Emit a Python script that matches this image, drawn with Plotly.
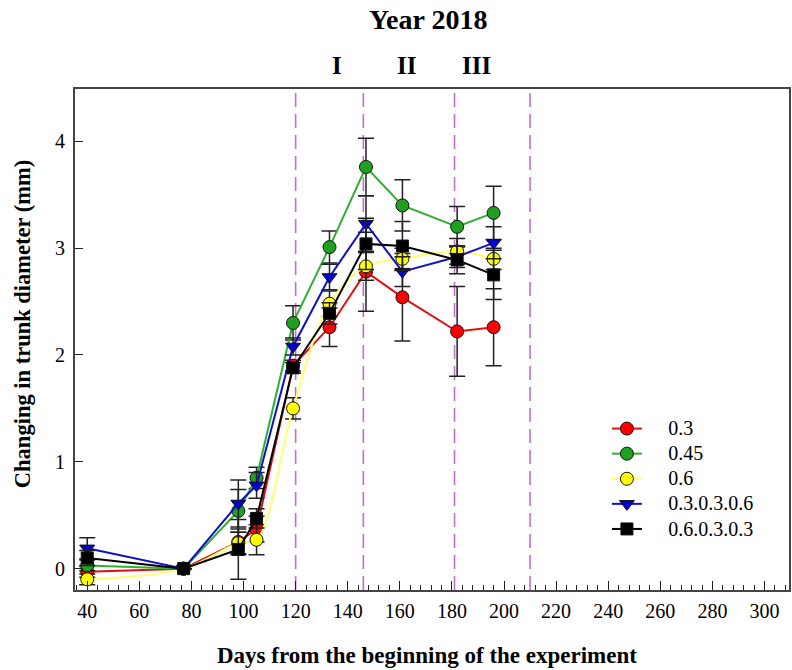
import plotly.graph_objects as go

# Sampling days (days from the beginning of the experiment)
days = [40, 77, 98, 105, 119, 133, 147, 161, 182, 196]

# Mean change in trunk diameter (mm) per irrigation treatment
series_names = ["0.3", "0.45", "0.6", "0.3.0.3.0.6", "0.6.0.3.0.3"]
y_03 = [-0.03, 0.0, 0.25, 0.37, 1.90, 2.26, 2.78, 2.54, 2.22, 2.26]
y_045 = [0.03, 0.0, 0.54, 0.85, 2.30, 3.01, 3.76, 3.40, 3.20, 3.33]
y_06 = [-0.10, 0.0, 0.24, 0.27, 1.50, 2.48, 2.83, 2.90, 2.97, 2.90]
y_030306 = [0.19, 0.0, 0.61, 0.78, 2.08, 2.73, 3.23, 2.78, 2.92, 3.05]
y_060303 = [0.10, 0.0, 0.18, 0.47, 1.88, 2.39, 3.04, 3.02, 2.89, 2.75]

# Standard errors
e_03 = [0.05, 0.0, 0.12, 0.12, 0.05, 0.18, 0.37, 0.41, 0.42, 0.36]
e_045 = [0.05, 0.0, 0.20, 0.10, 0.16, 0.15, 0.27, 0.24, 0.19, 0.25]
e_06 = [0.05, 0.0, 0.10, 0.14, 0.10, 0.12, 0.13, 0.10, 0.12, 0.10]
e_030306 = [0.10, 0.0, 0.22, 0.12, 0.08, 0.12, 0.26, 0.14, 0.10, 0.15]
e_060303 = [0.07, 0.0, 0.28, 0.09, 0.05, 0.10, 0.24, 0.23, 0.13, 0.23]

# Boundaries of the irrigation periods and their labels
period_bounds = [120, 146, 181, 210]
period_labels = ["I", "II", "III"]
period_label_pos = [136, 162.5, 189.5]

x_ticks = list(range(40, 301, 20))
y_ticks = [0, 1, 2, 3, 4]

FONT = "Liberation Serif, Times New Roman, serif"

# plot-area geometry in pixels (used to place free text)
PLOT_L, PLOT_R, PLOT_T, PLOT_B = 75, 791, 89, 590
PW, PH = PLOT_R - PLOT_L, PLOT_B - PLOT_T


def px_x(px):
    return (px - PLOT_L) / PW


def px_y(py):
    return (PLOT_B - py) / PH


styles = [
    dict(fill="#ff0000", line="#e01010", symbol="circle", size=13, shape="linear"),
    dict(fill="#20a020", line="#30b030", symbol="circle", size=13, shape="linear"),
    dict(fill="#ffff00", line="#ffff70", symbol="circle", size=13, shape="spline"),
    dict(fill="#0000d0", line="#1010c8", symbol="triangle-down", size=13, shape="linear"),
    dict(fill="#000000", line="#000000", symbol="square", size=12, shape="linear"),
]
values = [y_03, y_045, y_06, y_030306, y_060303]
errors = [e_03, e_045, e_06, e_030306, e_060303]

LEGEND_PAD = "\u00a0" * 5

fig = go.Figure()
for name, yv, ev, st in zip(series_names, values, errors, styles):
    fig.add_trace(go.Scatter(
        x=days, y=yv,
        name=f'{LEGEND_PAD}<span style="font-size:20px">{name}</span>',
        mode="lines+markers",
        line=dict(color=st["line"], width=2, shape=st["shape"]),
        marker=dict(symbol=st["symbol"], size=st["size"], color=st["fill"],
                    line=dict(color="#111111", width=1)),
        error_y=dict(type="data", array=ev, visible=True,
                     color="#222222", thickness=1.5, width=8),
    ))

for xb in period_bounds:
    fig.add_shape(type="line", x0=xb, x1=xb, y0=0, y1=1, xref="x", yref="paper",
                  line=dict(color="#c070c8", width=1.6, dash="14px,7px"), layer="below")

for lab, xp in zip(period_labels, period_label_pos):
    fig.add_annotation(x=xp, y=px_y(66), xref="x", yref="paper", yanchor="middle",
                       text=f"<b>{lab}</b>", showarrow=False,
                       font=dict(family=FONT, size=25, color="black"))

fig.add_annotation(x=px_x(429), y=px_y(20), xref="paper", yref="paper",
                   text="<b>Year 2018</b>", showarrow=False, yanchor="middle",
                   font=dict(family=FONT, size=28, color="black"))
fig.add_annotation(x=px_x(428), y=px_y(655), xref="paper", yref="paper",
                   text="<b>Days from the beginning of the experiment</b>", showarrow=False,
                   yanchor="middle", font=dict(family=FONT, size=23, color="black"))
fig.add_annotation(x=px_x(22), y=px_y(324), xref="paper", yref="paper",
                   text="<b>Changing in trunk diameter (mm)</b>", showarrow=False, textangle=-90,
                   xanchor="center", yanchor="middle",
                   font=dict(family=FONT, size=22.5, color="black"))

fig.update_layout(
    width=792, height=670,
    margin=dict(l=PLOT_L, r=792 - PLOT_R, t=PLOT_T, b=670 - PLOT_B),
    paper_bgcolor="white", plot_bgcolor="white",
    font=dict(family=FONT, size=20, color="black"),
    showlegend=True,
    legend=dict(x=0.745, y=px_y(411), xanchor="left", yanchor="top",
                bgcolor="rgba(0,0,0,0)", font=dict(family=FONT, size=17, color="black"),
                itemwidth=30, tracegroupgap=0),
)
fig.update_xaxes(
    range=[35.3, 309.4], tickvals=x_ticks, ticks="inside", ticklen=9, tickwidth=1.3,
    tickcolor="#222", showgrid=False, zeroline=False, showline=True, linecolor="#444",
    linewidth=2, mirror=True, ticklabelstandoff=2,
    tickfont=dict(family=FONT, size=20, color="black"),
    minor=dict(dtick=4, ticks="inside", ticklen=5, tickcolor="#222", tickwidth=1, showgrid=False),
)
fig.update_yaxes(
    range=[-0.2, 4.49], tickvals=y_ticks, ticks="inside", ticklen=8, tickwidth=1.3,
    tickcolor="#222", showgrid=False, zeroline=False, showline=True, linecolor="#444",
    linewidth=2, mirror=True, ticklabelstandoff=4,
    tickfont=dict(family=FONT, size=20, color="black"),
)

fig.write_html("out.html")
